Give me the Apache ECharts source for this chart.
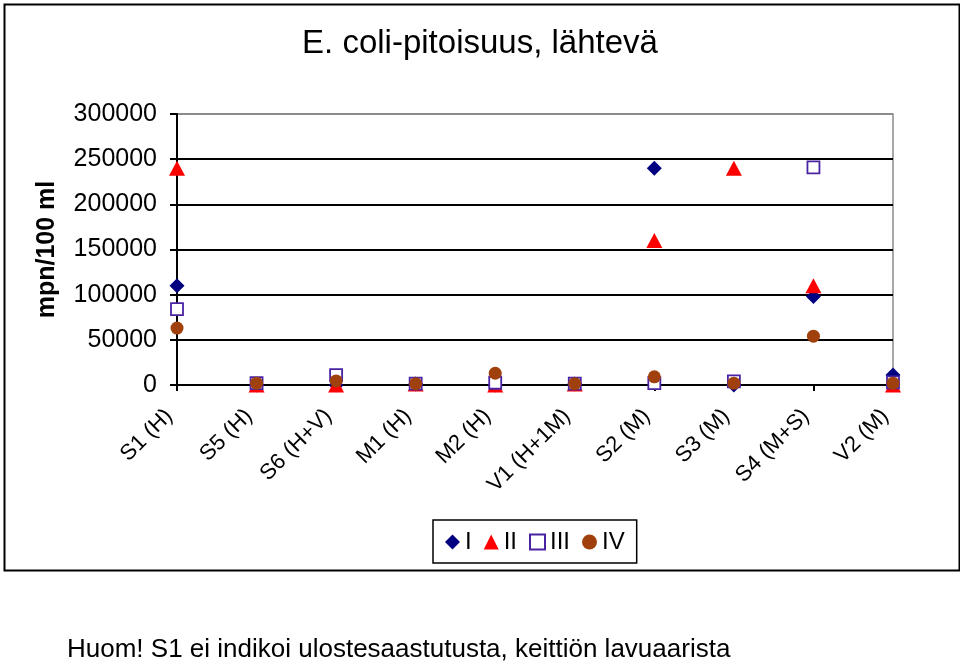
<!DOCTYPE html>
<html>
<head>
<meta charset="utf-8">
<script src="https://cdn.jsdelivr.net/npm/echarts@6/dist/echarts.min.js"></script>
<style>html,body{margin:0;padding:0;background:#fff}#c{width:960px;height:666px}</style>
</head>
<body>
<div id="c"></div>
<script>
var categories = ['S1 (H)','S5 (H)','S6 (H+V)','M1 (H)','M2 (H)','V1 (H+1M)','S2 (M)','S3 (M)','S4 (M+S)','V2 (M)'];
var seriesI   = [110000, 0, 0, 1000, 0, 1000, 240000, 0, 98000, 11000];
var seriesII  = [240000, 0, 0, 1000, 0, 1000, 160000, 240000, 110000, 0];
var seriesIII = [84000, 2000, 11000, 1500, 2500, 1500, 2000, 4000, 241000, 3000];
var seriesIV  = [63000, 2000, 4500, 1500, 13000, 1500, 9000, 2000, 54000, 2000];
var seriesNames = ['I','II','III','IV'];
var yTicks = [0, 50000, 100000, 150000, 200000, 250000, 300000];

var FONT = 'Liberation Sans, Arial, sans-serif';
var chart = echarts.init(document.getElementById('c'), null, {renderer:'canvas'});
var option = {
  animation: false,
  backgroundColor: '#fff',
  title: {
    text: 'E. coli-pitoisuus, lähtevä',
    left: 'center', top: 22,
    textStyle: {fontFamily: FONT, fontSize: 33, fontWeight: 'normal', color: '#000'}
  },
  grid: {left: 177, right: 67, top: 114, bottom: 281, show: true, borderColor: '#8c8c8c', borderWidth: 1.5, backgroundColor: '#fff'},
  legend: {
    data: seriesNames,
    left: 433, top: 520,
    itemGap: 12, itemWidth: 15, itemHeight: 15,
    padding: [10, 12, 9, 12],
    borderColor: '#000', borderWidth: 1.5,
    textStyle: {fontFamily: FONT, fontSize: 24, color: '#000'}
  },
  xAxis: {
    type: 'category', data: categories, boundaryGap: false,
    axisLine: {lineStyle: {color: '#000', width: 2}},
    axisTick: {show: true, length: 6, lineStyle: {color: '#000', width: 2}},
    axisLabel: {rotate: 45, interval: 0, margin: 20, padding: [0, 11, 0, 0], fontFamily: FONT, fontSize: 22, color: '#000'},
    splitLine: {show: false}
  },
  yAxis: {
    type: 'value', min: yTicks[0], max: yTicks[yTicks.length-1], interval: 50000,
    name: 'mpn/100 ml', nameLocation: 'middle', nameGap: 117, nameRotate: 90,
    nameTextStyle: {fontFamily: FONT, fontSize: 25, fontWeight: 'bold', color: '#000'},
    axisLine: {show: true, lineStyle: {color: '#000', width: 2}},
    axisTick: {show: true, length: 7, lineStyle: {color: '#000', width: 2}},
    axisLabel: {margin: 20, fontFamily: FONT, fontSize: 25, color: '#000', formatter: function (v) { return String(v); }},
    splitLine: {lineStyle: {color: ['#000','#000','#000','#000','#000','#000','#8c8c8c'], width: 2}}
  },
  series: [
    {name: 'I', type: 'scatter', data: seriesI, symbol: 'diamond', symbolSize: [15,15], itemStyle: {color: '#000080', opacity: 1}},
    {name: 'II', type: 'scatter', data: seriesII, symbol: 'triangle', symbolSize: [16,15], itemStyle: {color: '#ff0000', opacity: 1}},
    {name: 'III', type: 'scatter', data: seriesIII, symbol: 'rect', symbolSize: [12,12], itemStyle: {color: '#fff', borderColor: '#4a23a3', borderWidth: 1.8, opacity: 1}},
    {name: 'IV', type: 'scatter', data: seriesIV, symbol: 'circle', symbolSize: 13, itemStyle: {color: '#a0400c', opacity: 1}}
  ],
  graphic: [
    {type: 'rect', left: 2, top: 2, shape: {width: 955, height: 566}, style: {fill: null, stroke: '#000', lineWidth: 2}, silent: true},
    {type: 'text', left: 67, top: 637, style: {text: 'Huom! S1 ei indikoi ulostesaastutusta, keittiön lavuaarista', fontFamily: FONT, fontSize: 26, fill: '#000'}}
  ]
};
chart.setOption(option);
</script>
</body>
</html>
